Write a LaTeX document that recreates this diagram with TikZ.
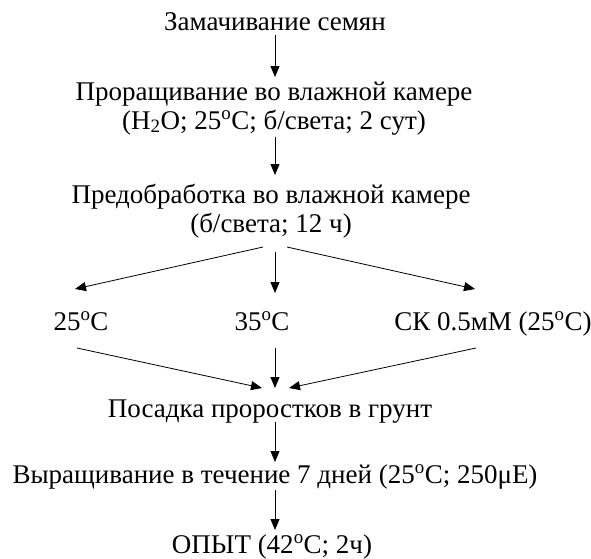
\documentclass[tikz,border=0pt]{standalone}
\usepackage{fontspec}
\setmainfont{Liberation Serif}
\usetikzlibrary{arrows.meta,positioning}
\newcommand{\dg}{\textsuperscript{o}}
\begin{document}
\begin{tikzpicture}[x=1pt, y=-1pt, font=\fontsize{27}{29}\selectfont,
                    step box/.style = {align=center, inner sep=0pt, outer sep=0pt, anchor=base},
                    arr/.style = {-{Triangle[length=11pt,width=9pt]}, line width=0.8pt}]
    \useasboundingbox (0,0) rectangle (591,558);
    % Этапы опыта
    \node[step box] (zam) at (275,30) {Замачивание семян};
    \node[step box] (pro) at (274,129) {Проращивание во влажной камере\\(H\textsubscript{2}O; 25\dg C; б/света; 2 сут)};
    \node[step box] (pre) at (271,232) {Предобработка во влажной камере\\(б/света; 12 ч)};
    \node[step box] (t25) at (81,330) {25\dg C};
    \node[step box] (t35) at (262,330) {35\dg C};
    \node[step box] (sk) at (493,330) {СК 0.5мМ (25\dg C)};
    \node[step box] (pos) at (270,417) {Посадка проростков в грунт};
    \node[step box] (vyr) at (275,483) {Выращивание в течение 7 дней (25\dg C; 250μE)};
    \node[step box] (opyt) at (272,553) {ОПЫТ (42\dg C; 2ч)};

    \draw[arr] ([yshift=-5pt]zam.base) -- ([xshift=1pt,yshift=52pt]pro.base);
    \draw[arr] ([xshift=1pt,yshift=-8pt]pro.base) -- ([xshift=4pt,yshift=57pt]pre.base);
    % три варианта
    \draw[arr] ([xshift=-8pt,yshift=-15pt]pre.base) -- ([xshift=-6pt,yshift=41pt]t25.base);
    \draw[arr] ([xshift=4pt,yshift=-20pt]pre.base) -- ([xshift=13pt,yshift=37pt]t35.base);
    \draw[arr] ([xshift=16pt,yshift=-15pt]pre.base) -- ([xshift=-18pt,yshift=41pt]sk.base);
    \draw[arr] ([xshift=-4pt,yshift=-18pt]t25.base) -- ([xshift=-8pt,yshift=29pt]pos.base);
    \draw[arr] ([xshift=13pt,yshift=-18pt]t35.base) -- ([xshift=5pt,yshift=29pt]pos.base);
    \draw[arr] ([xshift=-17pt,yshift=-18pt]sk.base) -- ([xshift=19pt,yshift=29pt]pos.base);
    % выращивание и опыт
    \draw[arr] ([xshift=5pt,yshift=-5pt]pos.base) -- ([yshift=21pt]vyr.base);
    \draw[arr] ([yshift=-7pt]vyr.base) -- ([xshift=3pt,yshift=23pt]opyt.base);
\end{tikzpicture}
\end{document}
